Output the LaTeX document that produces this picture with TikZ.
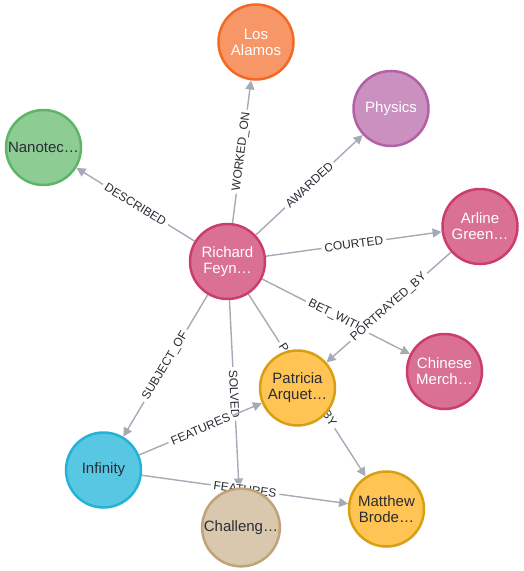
\documentclass[tikz,border=0pt]{standalone}
\usepackage{fontspec}
\setmainfont{Liberation Sans}
\usetikzlibrary{arrows.meta,backgrounds}
\definecolor{pinkfill}{HTML}{DA7194}
\definecolor{pinkline}{HTML}{CC3C6C}
\definecolor{orangefill}{HTML}{F79767}
\definecolor{orangeline}{HTML}{F36924}
\definecolor{purplefill}{HTML}{C990C0}
\definecolor{purpleline}{HTML}{B261A5}
\definecolor{greenfill}{HTML}{8DCC93}
\definecolor{greenline}{HTML}{5DB665}
\definecolor{cyanfill}{HTML}{57C7E3}
\definecolor{cyanline}{HTML}{23B3D7}
\definecolor{yellowfill}{HTML}{FFC454}
\definecolor{yellowline}{HTML}{D7A013}
\definecolor{tanfill}{HTML}{D9C8AE}
\definecolor{tanline}{HTML}{C0A378}
\definecolor{darktext}{HTML}{2A2C34}
\definecolor{relgray}{HTML}{A5ABB6}
\begin{document}
\begin{tikzpicture}[x=1pt,y=-1pt,
  ent/.style={circle,line width=2.5pt,minimum size=75pt,inner sep=1pt,align=center,
    font=\fontsize{15}{16}\selectfont},
  person/.style={ent,fill=pinkfill,draw=pinkline,text=white},
  place/.style={ent,fill=orangefill,draw=orangeline,text=white},
  field/.style={ent,fill=purplefill,draw=purpleline,text=white},
  topic/.style={ent,fill=greenfill,draw=greenline,text=darktext},
  film/.style={ent,fill=cyanfill,draw=cyanline,text=darktext},
  actor/.style={ent,fill=yellowfill,draw=yellowline,text=darktext},
  task/.style={ent,fill=tanfill,draw=tanline,text=darktext},
  rel/.style={draw=relgray,line width=1.4pt,-{Triangle[length=9pt,width=9pt]}},
  rlabel/.style={midway,sloped,fill=white,inner xsep=3pt,inner ysep=1pt,text=darktext,
    font=\fontsize{12}{12}\selectfont}]
  \useasboundingbox (0,0) rectangle (523,571);

  % nodes
  \node[person] (rf) at (227.5,261.5) {Richard\\Feyn…};
  \node[place] (la) at (256,42) {Los\\Alamos};
  \node[field] (ph) at (391,108.5) {Physics};
  \node[topic] (nt) at (43.5,147.5) {Nanotec…};
  \node[person] (ag) at (480,226.5) {Arline\\Green…};
  \node[person] (cm) at (444.5,371.5) {Chinese\\Merch…};
  \node[actor] (pa) at (297.5,388) {Patricia\\Arquet…};
  \node[film] (inf) at (103.5,470) {Infinity};
  \node[task] (ch) at (241,527.5) {Challeng…};
  \node[actor] (mb) at (386.5,509) {Matthew\\Brode…};

  % relationships
  \begin{scope}[on background layer]
    \draw[rel] (rf) -- node[rlabel] {WORKED\_ON} (la);
    \draw[rel] (rf) -- node[rlabel] {AWARDED} (ph);
    \draw[rel] (rf) -- node[rlabel] {DESCRIBED} (nt);
    \draw[rel] (rf) -- node[rlabel] {COURTED} (ag);
    \draw[rel] (rf) -- node[rlabel] {BET\_WITH} (cm);
    \draw[rel] (rf) -- node[rlabel] {PORTRAYED\_BY} (mb);
    \draw[rel] (ag) -- node[rlabel] {PORTRAYED\_BY} (pa);
    \draw[rel] (rf) -- node[rlabel] {SUBJECT\_OF} (inf);
    \draw[rel] (rf) -- node[rlabel] {SOLVED} (ch);
    \draw[rel] (inf) -- node[rlabel] {FEATURES} (pa);
    \draw[rel] (inf) -- node[rlabel] {FEATURES} (mb);
  \end{scope}
\end{tikzpicture}
\end{document}
